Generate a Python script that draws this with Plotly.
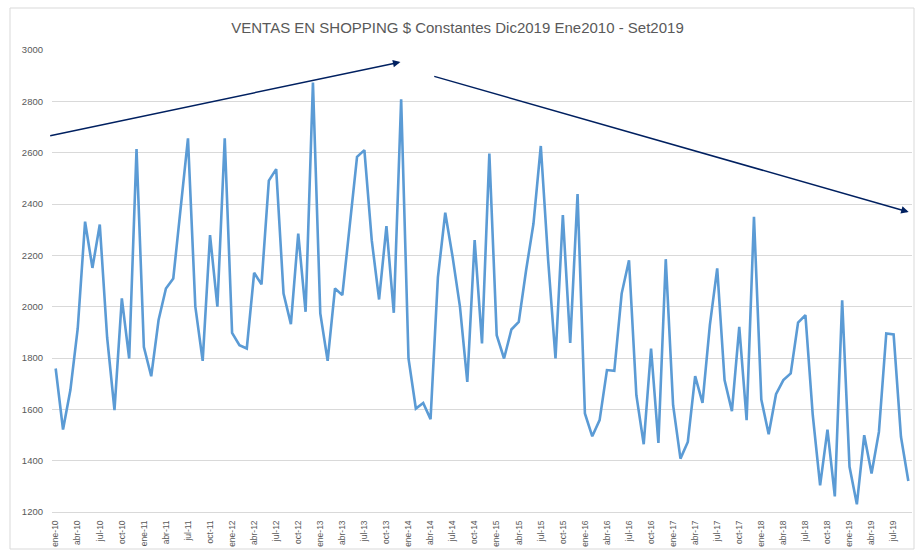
import plotly.graph_objects as go

# Meses ene-2010 .. set-2019
meses = ["ene", "feb", "mar", "abr", "may", "jun", "jul", "ago", "sep", "oct", "nov", "dic"]
years = list(range(10, 20))
labels = [f"{m}-{y}" for y in years for m in meses][:117]

ventas = [
    1759, 1521, 1675, 1915, 2331, 2151, 2320, 1880, 1597, 2032, 1798, 2614,
    1843, 1729, 1948, 2071, 2110, 2376, 2656, 2000, 1789, 2279, 2000, 2656,
    1898, 1850, 1837, 2132, 2087, 2491, 2536, 2051, 1932, 2285, 1980, 2873,
    1974, 1789, 2071, 2045, 2305, 2584, 2610, 2259, 2028, 2314, 1976, 2808,
    1798, 1603, 1625, 1562, 2114, 2366, 2194, 2000, 1707, 2259, 1857, 2597,
    1889, 1798, 1911, 1941, 2142, 2323, 2626, 2181, 1798, 2357, 1859, 2439,
    1584, 1495, 1558, 1753, 1750, 2051, 2181, 1655, 1464, 1837, 1469, 2185,
    1616, 1408, 1473, 1729, 1625, 1928, 2149, 1714, 1593, 1921, 1558, 2350,
    1638, 1503, 1659, 1714, 1740, 1938, 1967, 1577, 1304, 1521, 1261, 2025,
    1376, 1230, 1499, 1350, 1512, 1896, 1892, 1493, 1321,
]

tick_labels = labels[::3]

fig = go.Figure()
fig.add_trace(go.Scatter(
    x=labels, y=ventas, mode="lines",
    line=dict(color="#5B9BD5", width=2.6),
    hoverinfo="x+y",
))

navy = "#002060"
# tendencia creciente
fig.add_annotation(x=46.9, y=2953, ax=-0.95, ay=2665, xref="x", yref="y",
                   axref="x", ayref="y", showarrow=True, arrowhead=2,
                   arrowsize=1, arrowwidth=1.5, arrowcolor=navy, text="")
# tendencia decreciente
fig.add_annotation(x=116.05, y=2369, ax=51.3, ay=2899, xref="x", yref="y",
                   axref="x", ayref="y", showarrow=True, arrowhead=2,
                   arrowsize=1, arrowwidth=1.5, arrowcolor=navy, text="")

fig.update_layout(
    width=915, height=550,
    title=dict(text="VENTAS EN SHOPPING $ Constantes Dic2019 Ene2010 - Set2019",
               x=0.5, xanchor="center", y=0.95, yanchor="middle",
               font=dict(family="Liberation Sans", size=15, color="#595959")),
    font=dict(family="Liberation Sans", color="#595959"),
    plot_bgcolor="white", paper_bgcolor="white",
    showlegend=False,
    margin=dict(l=52, r=3, t=50, b=38),
    xaxis=dict(
        type="category", tickmode="array", tickvals=tick_labels, ticktext=tick_labels,
        range=[-0.5, 116.5], automargin=False,
        tickangle=-90, tickfont=dict(size=8.5, color="#595959"), ticklabelstandoff=4,
        showgrid=False, showline=True, linecolor="#D9D9D9", ticks="",
    ),
    yaxis=dict(
        range=[1200, 3000], dtick=200, tickfont=dict(size=9.5, color="#595959"),
        automargin=False, ticklabelstandoff=8,
        showgrid=True, gridcolor="#D9D9D9", gridwidth=1, zeroline=False,
        showline=False, ticks="",
    ),
    shapes=[dict(type="rect", xref="paper", yref="paper",
                 x0=(10 - 52) / 860, x1=(914 - 52) / 860,
                 y0=(550 - 38 - 549) / 462, y1=(550 - 38 - 8) / 462,
                 line=dict(color="#D9D9D9", width=1), layer="below")],
)

fig.write_html("out.html", config={"displayModeBar": False},
               post_script="document.body.style.margin='0';")
